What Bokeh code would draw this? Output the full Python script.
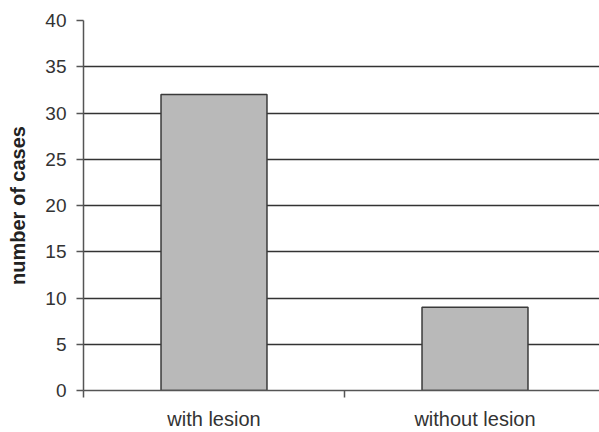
from bokeh.plotting import figure
from bokeh.models import Range1d, FixedTicker, ColumnDataSource
from bokeh.embed import file_html
from bokeh.resources import INLINE

categories = ["with lesion", "without lesion"]
cases = [32, 9]
y_ticks = [0, 5, 10, 15, 20, 25, 30, 35, 40]
grid_ticks = [5, 10, 15, 20, 25, 30, 35]

centers = [i + 0.5 for i in range(len(categories))]
boundaries = [float(i) for i in range(len(categories) + 1)]

src = ColumnDataSource(dict(x=centers, top=cases, cat=categories))

p = figure(width=599, height=432, output_backend="svg", toolbar_location=None,
           x_range=Range1d(0, 1.977), y_range=Range1d(0, 40),
           min_border_left=83, min_border_right=0, min_border_top=20, min_border_bottom=42)
p.outline_line_color = None
p.background_fill_color = "white"
p.border_fill_color = "white"

p.vbar(x="x", top="top", bottom=0, width=0.406, source=src,
       fill_color="#b9b9b9", line_color="#3a3a3a", line_width=1.5)

font = "Liberation Sans"
txt = "#333333"

# x axis
xa = p.xaxis[0]
xa.ticker = FixedTicker(ticks=centers, minor_ticks=boundaries)
xa.major_label_overrides = {c: lab for c, lab in zip(centers, categories)}
xa.major_tick_out = 0
xa.major_tick_in = 0
xa.minor_tick_out = 7
xa.minor_tick_in = 0
xa.minor_tick_line_color = "#555555"
xa.minor_tick_line_width = 1.5
xa.axis_line_color = "#555555"
xa.axis_line_width = 1.5
xa.major_label_standoff = 10
xa.major_label_text_font = font
xa.major_label_text_font_size = "20px"
xa.major_label_text_color = txt

# y axis
ya = p.yaxis[0]
ya.ticker = FixedTicker(ticks=y_ticks, minor_ticks=[])
ya.major_tick_out = 7
ya.major_tick_in = 0
ya.major_tick_line_color = "#555555"
ya.major_tick_line_width = 1.5
ya.axis_line_color = "#555555"
ya.axis_line_width = 1.5
ya.major_label_standoff = 10
ya.major_label_text_font = font
ya.major_label_text_font_size = "19px"
ya.major_label_text_color = txt
ya.axis_label = "number of cases"
ya.axis_label_text_font = font
ya.axis_label_text_font_size = "20px"
ya.axis_label_text_font_style = "bold"
ya.axis_label_text_color = "#222222"
ya.axis_label_standoff = 13

p.xgrid.grid_line_color = None
p.ygrid.ticker = FixedTicker(ticks=grid_ticks)
p.ygrid.grid_line_color = "#333333"
p.ygrid.grid_line_width = 1.5

open("out.html", "w").write(file_html(p, INLINE))
